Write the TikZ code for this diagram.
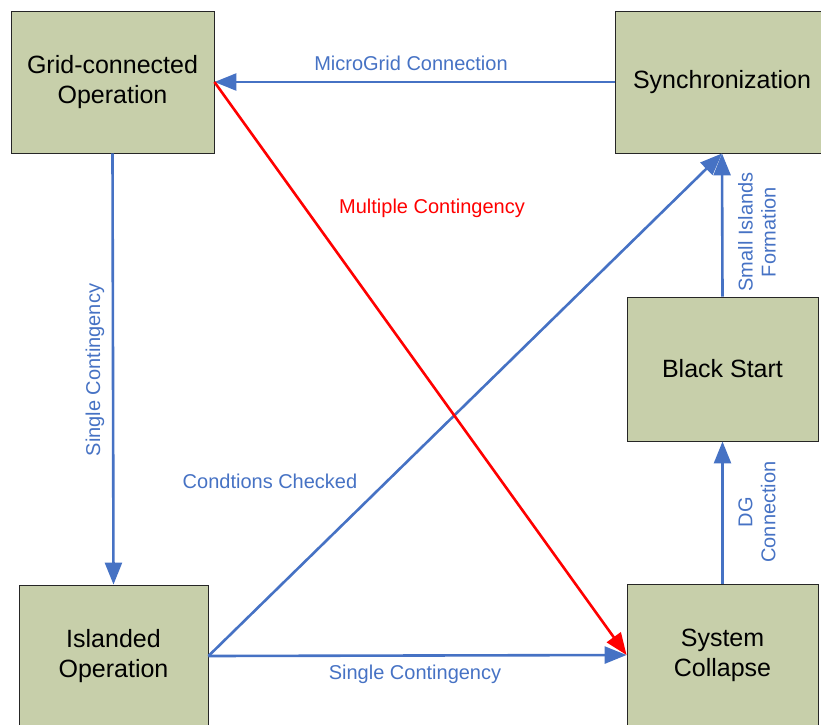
\documentclass[tikz,border=0pt]{standalone}
\usepackage{fontspec}
\setmainfont{Liberation Sans}
\usetikzlibrary{arrows.meta}
\definecolor{boxfill}{RGB}{199,207,170}
\definecolor{flowblue}{RGB}{70,114,196}
\definecolor{flowred}{RGB}{255,0,0}
\begin{document}
\begin{tikzpicture}[x=1pt,y=-1pt,
  state/.style={draw=black!85, fill=boxfill, line width=0.9pt, inner sep=0pt,
    align=center, font=\fontsize{25}{30}\selectfont},
  flow/.style={draw=flowblue, line width=2.6pt,
    -{Triangle[length=22pt,width=17pt]}},
  fault/.style={draw=flowred, line width=2.6pt,
    -{Triangle[length=22pt,width=17pt]}},
  lbl/.style={text=flowblue, inner sep=0pt, align=center,
    font=\fontsize{20}{23}\selectfont},
  redlbl/.style={lbl, text=flowred}]
\useasboundingbox (0,0) rectangle (821,724);
\clip (0,0) rectangle (821,724);

% states
\node[state, minimum width=203pt, minimum height=142pt] (grid) at (112.5,82) {Grid-connected\\Operation};
\node[state, minimum width=214pt, minimum height=142pt] (sync) at (722,82) {Synchronization};
\node[state, minimum width=191pt, minimum height=144pt] (bs) at (722.5,369) {Black Start};
\node[state, minimum width=189pt, minimum height=142pt] (isl) at (113.5,656) {Islanded\\Operation};
\node[state, minimum width=191pt, minimum height=142pt] (col) at (722.5,655) {System\\Collapse};

% transitions
\draw[flow] (sync.west) -- (grid.east);
\draw[flow] (grid.south) -- (isl.north);
\draw[flow] (isl.east) -- (sync.south);
\draw[flow] (isl.east) -- (col.west);
\draw[flow] (col.north) -- (bs.south);
\draw[flow] (bs.north) -- (sync.south);
\draw[fault] (grid.east) -- (col.west);

% transition labels
\node[lbl] (lmg) at (411,63) {MicroGrid Connection};
\node[redlbl] (lmc) at (432,208) {Multiple Contingency};
\node[lbl, rotate=90] (lsc1) at (95,370) {Single Contingency};
\node[lbl] (lcc) at (270,481) {Condtions Checked};
\node[lbl] (lsc2) at (415,674) {Single Contingency};
\node[lbl, rotate=90] (ldg) at (757,512) {DG\\Connection};
\node[lbl, rotate=90] (lsi) at (757,232) {Small Islands\\Formation};
\end{tikzpicture}
\end{document}
